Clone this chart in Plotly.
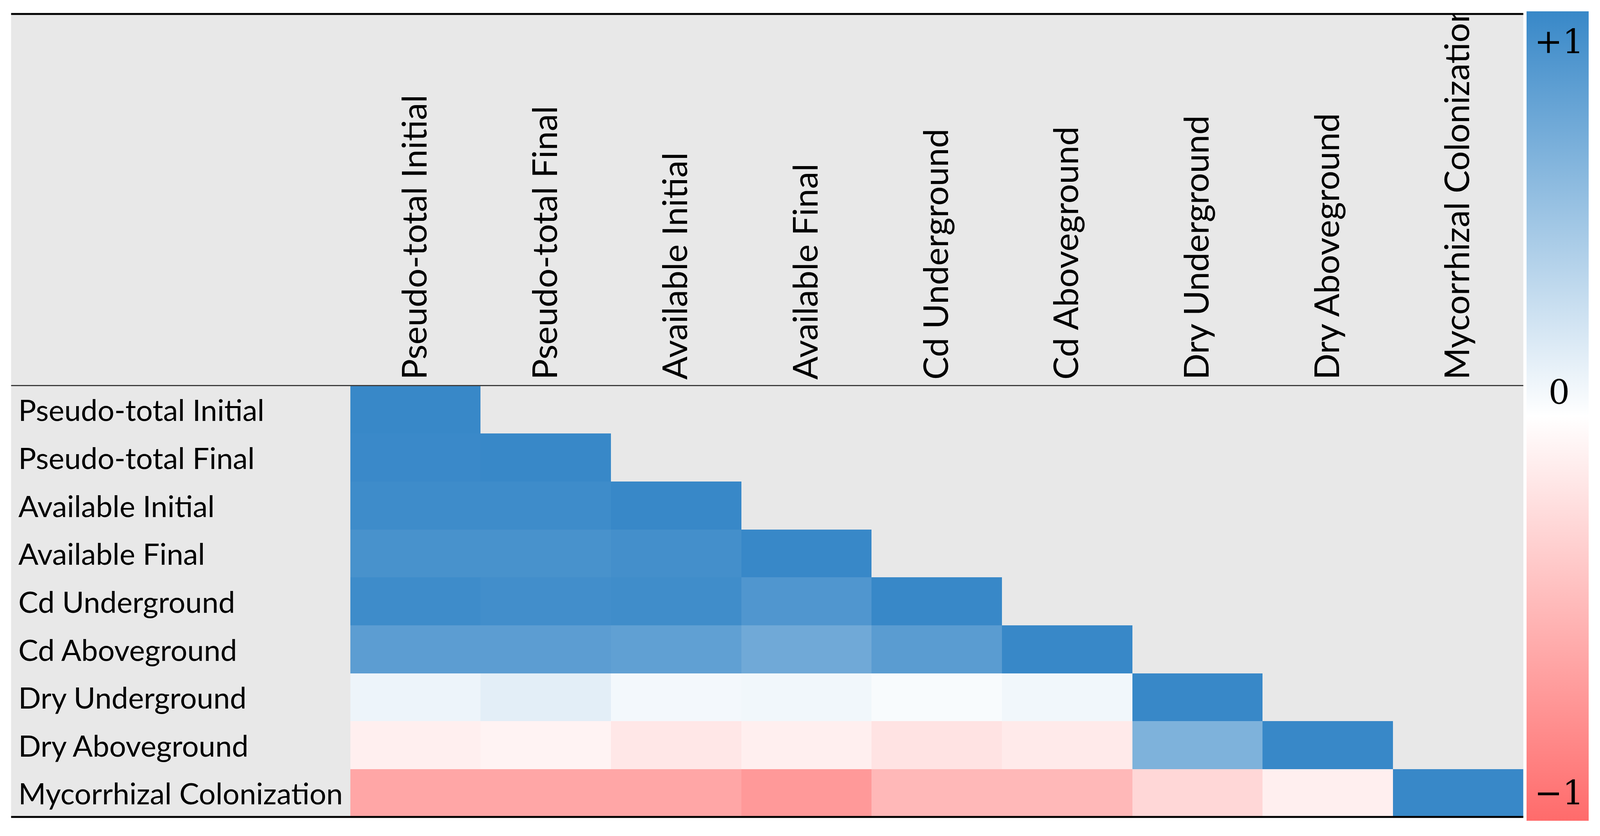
import plotly.graph_objects as go

W, H = 4398, 2139

variables = [
    "Pseudo-total Initial",
    "Pseudo-total Final",
    "Available Initial",
    "Available Final",
    "Cd Underground",
    "Cd Aboveground",
    "Dry Underground",
    "Dry Aboveground",
    "Mycorrhizal Colonization",
]

# lower-triangular correlation values (row i, columns 0..i)
r_pseudo_initial = [1.00]
r_pseudo_final = [0.99, 1.00]
r_avail_initial = [0.97, 0.97, 1.00]
r_avail_final = [0.92, 0.92, 0.94, 1.00]
r_cd_under = [0.97, 0.95, 0.96, 0.88, 1.00]
r_cd_above = [0.82, 0.82, 0.80, 0.72, 0.83, 1.00]
r_dry_under = [0.09, 0.14, 0.06, 0.07, 0.035, 0.07, 1.00]
r_dry_above = [-0.11, -0.08, -0.16, -0.11, -0.19, -0.14, 0.65, 1.00]
r_myco = [-0.60, -0.60, -0.60, -0.69, -0.48, -0.48, -0.27, -0.11, 1.00]

rows_values = [r_pseudo_initial, r_pseudo_final, r_avail_initial, r_avail_final,
               r_cd_under, r_cd_above, r_dry_under, r_dry_above, r_myco]

cbar_labels = ["+1", "0", "\u22121"]
cbar_label_values = [1, 0, -1]

n = len(variables)
z = [vals + [None] * (n - len(vals)) for vals in rows_values]

GRAY = "#e8e8e8"
FONT = "Lato"


def px(x):
    return x / W


def py(y):
    return 1 - y / H


x_left, x_right = px(958), px(4195)
y_bot, y_top = py(2098), py(986)

fig = go.Figure(
    go.Heatmap(
        z=z,
        x=variables,
        y=variables,
        zmin=-1,
        zmax=1,
        colorscale=[[0, "#ff6b6b"], [0.5, "#ffffff"], [1, "#3888c8"]],
        xgap=0,
        ygap=0,
        hoverongaps=False,
        colorbar=dict(
            x=px(4204),
            xanchor="left",
            y=py(1064),
            yanchor="middle",
            len=(2108 - 21) / H,
            lenmode="fraction",
            thickness=(4375 - 4204) / W,
            thicknessmode="fraction",
            xpad=0,
            ypad=0,
            outlinewidth=0,
            ticks="",
            showticklabels=False,
        ),
    )
)

fig.update_layout(
    autosize=True,
    margin=dict(l=0, r=0, t=0, b=0, pad=0, autoexpand=False),
    paper_bgcolor="white",
    plot_bgcolor=GRAY,
    showlegend=False,
    xaxis=dict(
        domain=[x_left, x_right],
        side="top",
        tickangle=-90,
        tickfont=dict(family=FONT, size=88, color="black"),
        ticks="",
        ticklabelstandoff=14,
        showgrid=False,
        zeroline=False,
        showline=False,
        automargin=False,
    ),
    yaxis=dict(
        domain=[y_bot, y_top],
        autorange="reversed",
        showticklabels=False,
        ticks="",
        showgrid=False,
        zeroline=False,
        showline=False,
        automargin=False,
    ),
)

shapes = [
    dict(type="rect", xref="paper", yref="paper", x0=px(22), x1=px(4195),
         y0=py(2098), y1=py(28), fillcolor=GRAY, line=dict(width=0), layer="below"),
    dict(type="rect", xref="paper", yref="paper", x0=0, x1=px(4200),
         y0=py(30), y1=1.0, fillcolor="white", line=dict(width=0), layer="above"),
    dict(type="line", xref="paper", yref="paper", x0=px(22), x1=px(4195),
         y0=py(28), y1=py(28), line=dict(color="black", width=5), layer="above"),
    dict(type="line", xref="paper", yref="paper", x0=px(22), x1=px(4195),
         y0=y_top, y1=y_top, line=dict(color="#3c3c3c", width=3), layer="above"),
    dict(type="line", xref="paper", yref="paper", x0=px(22), x1=px(4195),
         y0=y_bot, y1=y_bot, line=dict(color="black", width=5), layer="above"),
]
fig.update_layout(shapes=shapes)

annotations = []
for name in variables:
    annotations.append(dict(
        x=px(40), xref="paper", y=name, yref="y",
        text=name, showarrow=False, xanchor="left", yanchor="middle",
        font=dict(family=FONT, size=76, color="black"),
    ))

label_y_px = {1: 99, 0: 1002, -1: 2035}
for lab, v in zip(cbar_labels, cbar_label_values):
    annotations.append(dict(
        x=px(4294), xref="paper", y=py(label_y_px[v]), yref="paper",
        text=lab, showarrow=False, xanchor="center", yanchor="middle",
        font=dict(family="DejaVu Serif", size=86, color="black"),
    ))
fig.update_layout(annotations=annotations)

fig.write_html("out.html", default_width="calc(100vw - 16px)",
               default_height="calc(100vh - 16px)")
